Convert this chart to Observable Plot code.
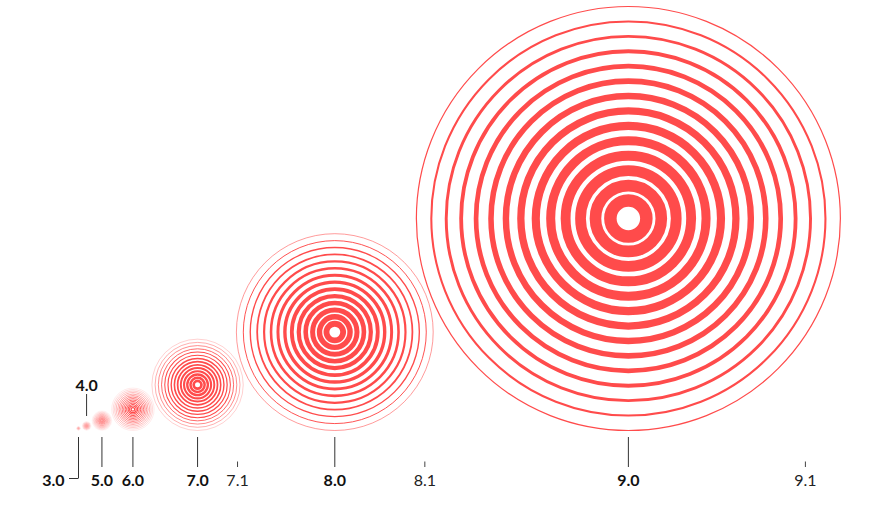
<!DOCTYPE html>
<html><head><meta charset="utf-8">
<script src="https://cdn.jsdelivr.net/npm/d3@7"></script>
<script src="https://cdn.jsdelivr.net/npm/@observablehq/plot@0.6"></script>
<style>body{margin:0;background:#fff;font-family:Lato,sans-serif}</style>
</head><body><div id="chart"></div>
<script>
// ---- data ----
const magnitudes = [3.0, 4.0, 5.0, 6.0, 7.0, 8.0, 9.0];
const majorLabels = ["3.0", "4.0", "5.0", "6.0", "7.0", "8.0", "9.0"];
const minorTicks = [7.1, 8.1, 9.1];
const minorLabels = ["7.1", "8.1", "9.1"];
const ringCount = 14;

// ---- layout constants ----
const W = 871, H = 505;
const PX = 212;          // px per radius unit (outer ring of the 9.0 circle)
const baseY = 430;       // circles sit on this line
const firstX = 78;       // centre of the 3.0 circle
const color = "#ff4b4b";
const minorFrac = [0.875, 0.915, 0.835]; // minor tick offset, fraction of parent radius

const amp = m => Math.pow(10, (m - 9) / 3);   // relative size (cube root of amplitude)
const yPx = py => (baseY - py) / PX;

// circle centres laid out side by side
const circles = [];
magnitudes.forEach((m, i) => {
  const u = amp(m);
  let x = 0;
  if (i > 0) { const p = circles[i - 1]; x = p.x + 0.94 * (p.u + u) + 1.8 / PX; }
  circles.push({m, label: majorLabels[i], u, x});
});

// rings
const rings = [];
for (const c of circles) {
  for (let i = 0; i < ringCount; i++) {
    const rf = (18 + 194 * i / (ringCount - 1)) / PX;
    const wf = 12.5 - 11.3 * i / (ringCount - 1);
    rings.push({m: c.m, x: c.x, y: c.u, r: c.u * rf, sw: c.u * wf});
  }
}

const minors = minorTicks.map((m, i) => {
  const parent = circles.find(c => c.m === Math.floor(m));
  return {m, label: minorLabels[i], x: parent.x + parent.u * minorFrac[i]};
});

const c3 = circles.find(c => c.m === 3);
const c4 = circles.find(c => c.m === 4);
const bottomMajors = circles.filter(c => c.m >= 5);

const chart = Plot.plot({
  width: W, height: H,
  margin: 0,
  x: {domain: [-firstX / PX, (W - firstX) / PX], axis: null},
  y: {domain: [(baseY - H) / PX, baseY / PX], axis: null},
  r: {type: "linear", domain: [0, 1], range: [0, PX]},
  style: {fontFamily: "Lato, sans-serif", background: "#fff"},
  marks: [
    Plot.dot(rings, {x: "x", y: "y", r: "r", stroke: color, strokeWidth: "sw", fill: "none"}),
    // major ticks
    Plot.ruleX(bottomMajors, {x: "x", y1: yPx(437), y2: yPx(467), stroke: "#333", strokeWidth: 1}),
    Plot.text(bottomMajors, {x: "x", y: yPx(480), text: "label", fontSize: 16, fontWeight: "bold", fill: "#111"}),
    // 3.0 connector
    Plot.ruleX([c3], {x: "x", y1: yPx(437), y2: yPx(478.5), stroke: "#333"}),
    Plot.ruleY([c3], {y: () => yPx(478), x1: d => d.x - 9 / PX, x2: "x", stroke: "#333"}),
    Plot.text([c3], {x: d => d.x - 14 / PX, y: yPx(480), text: "label", textAnchor: "end", fontSize: 16, fontWeight: "bold", fill: "#111"}),
    // 4.0 above
    Plot.ruleX([c4], {x: "x", y1: yPx(394), y2: yPx(416), stroke: "#333"}),
    Plot.text([c4], {x: "x", y: yPx(385), text: "label", fontSize: 16, fontWeight: "bold", fill: "#111"}),
    // minor ticks
    Plot.ruleX(minors, {x: "x", y1: yPx(461.5), y2: yPx(467), stroke: "#444"}),
    Plot.text(minors, {x: "x", y: yPx(480), text: "label", fontSize: 16, fill: "#222"})
  ]
});
document.getElementById("chart").append(chart);
</script>
</body></html>
